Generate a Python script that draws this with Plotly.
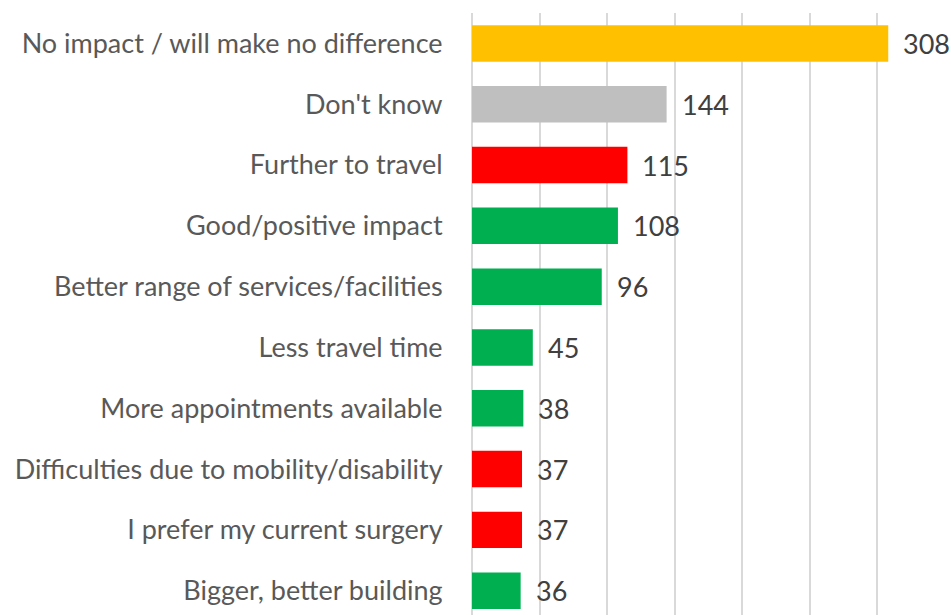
import plotly.graph_objects as go

categories = [
    "No impact / will make no difference",
    "Don't know",
    "Further to travel",
    "Good/positive impact",
    "Better range of services/facilities",
    "Less travel time",
    "More appointments available",
    "Difficulties due to mobility/disability",
    "I prefer my current surgery",
    "Bigger, better building",
]
values = [308, 144, 115, 108, 96, 45, 38, 37, 37, 36]
colors = ["#FFC000", "#BFBFBF", "#FF0000", "#00B050", "#00B050",
          "#00B050", "#00B050", "#FF0000", "#FF0000", "#00B050"]

FONT = "Lato"
SIZE = 27

fig = go.Figure(go.Bar(
    x=values, y=categories, orientation="h",
    marker=dict(color=colors, line=dict(width=0)),
    width=0.6,
    hoverinfo="skip",
))

for c, v in zip(categories, values):
    fig.add_annotation(x=v, y=c, text=str(v), showarrow=False,
                       xanchor="left", yanchor="middle", xshift=13,
                       font=dict(family=FONT, size=SIZE, color="#404040"))

fig.update_layout(
    width=951, height=615,
    margin=dict(l=472, r=6, t=13, b=0),
    paper_bgcolor="white", plot_bgcolor="white",
    showlegend=False,
    font=dict(family=FONT, size=SIZE, color="#595959"),
)
fig.update_xaxes(range=[0, 350], dtick=50, showgrid=True, gridcolor="#D9D9D9",
                 gridwidth=1.5, showticklabels=False, zeroline=True,
                 zerolinecolor="#D9D9D9", zerolinewidth=1.5, showline=False)
fig.update_yaxes(range=[9.4, -0.5], showgrid=False, ticks="outside", ticklen=0,
                 ticklabelstandoff=23, tickfont=dict(family=FONT, size=SIZE, color="#595959"))

fig.write_html(
    "out.html",
    config={"displayModeBar": False},
    post_script="document.body.style.margin='0';document.body.style.overflow='hidden';",
)
